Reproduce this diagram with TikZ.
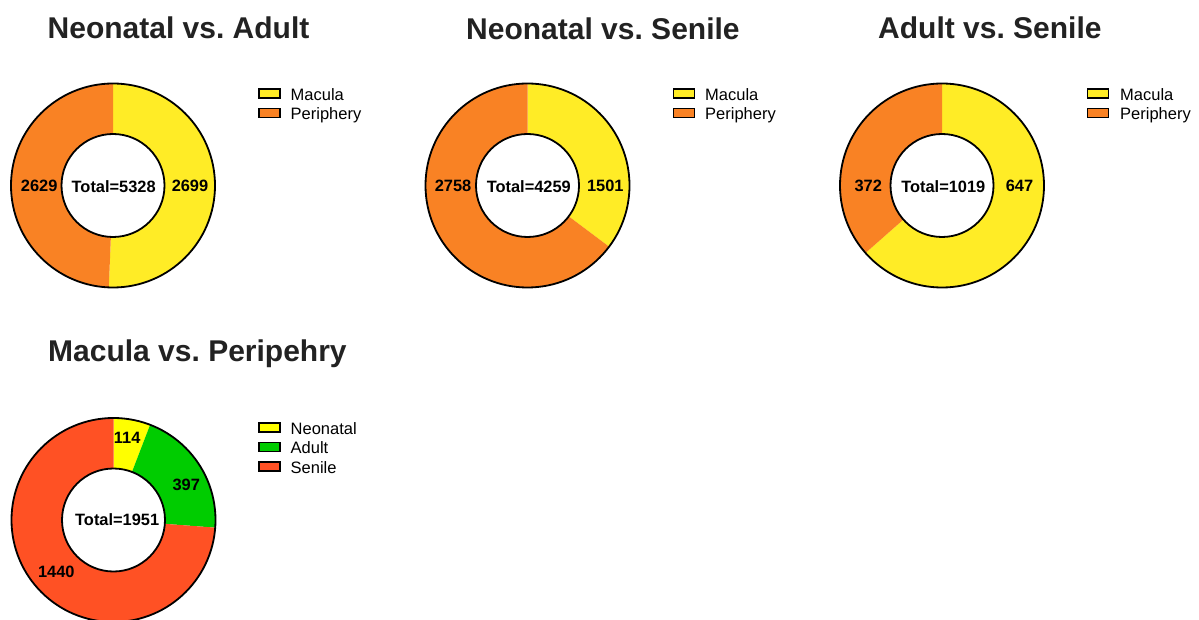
\documentclass[tikz,border=0pt]{standalone}
\usepackage{fontspec}
\setmainfont{Liberation Sans}
\usetikzlibrary{calc}
\definecolor{mac}{RGB}{255,236,38}
\definecolor{per}{RGB}{249,130,36}
\definecolor{neo}{RGB}{255,255,0}
\definecolor{adu}{RGB}{0,204,0}
\definecolor{sen}{RGB}{255,81,36}
\definecolor{ttl}{RGB}{34,34,34}
\frenchspacing
\newcommand\ringseg[4]{\fill[#4] ($(#1)+(#2:102)$) arc[start angle=#2, end angle=#3, radius=102] -- ($(#1)+(#3:51.5)$) arc[start angle=#3, end angle=#2, radius=51.5] -- cycle;}
\newcommand\ringline[1]{\draw[ring] (#1) circle[radius=102]; \draw[ring, fill=white] (#1) circle[radius=51.5];}
\begin{document}
\begin{tikzpicture}[x=1pt, y=1pt,
  title/.style={font=\fontsize{30}{36}\selectfont\bfseries, text=ttl, anchor=base west, inner sep=0},
  val/.style={font=\fontsize{16.4}{19}\selectfont\bfseries, inner sep=0},
  leg/.style={font=\fontsize{16.5}{19}\selectfont, anchor=base west, inner sep=0},
  legbox/.style={draw=black, line width=1.5pt},
  ring/.style={draw=black, line width=1.8pt}]
\useasboundingbox (0,0) rectangle (1199,619);
\fill[white] (0,0) rectangle (1199,619);

\coordinate (c1) at (113,433.5);
\coordinate (c2) at (527.5,433.5);
\coordinate (c3) at (942,433.5);
\coordinate (c4) at (113.5,99);

% titles
\node[title] (t1) at (47.5,580.7) {Neonatal vs. Adult};
\node[title] (t2) at (466,579.8) {Neonatal vs. Senile};
\node[title] (t3) at (878,580.7) {Adult vs. Senile};
\node[title] (t4) at (48,257.7) {Macula vs. Peripehry};

% chart 1
\ringseg{c1}{90}{-92.36}{mac}
\ringseg{c1}{-92.36}{-270}{per}
\ringline{c1}
\node[val] (v1a) at (190,432.7) {2699};
\node[val] (v1b) at (39.2,432.7) {2629};
\node[val] (v1t) at (113.7,432.7) {Total=5328};

% chart 2
\ringseg{c2}{90}{-36.87}{mac}
\ringseg{c2}{-36.87}{-270}{per}
\ringline{c2}
\node[val] (v2a) at (605.3,432.7) {1501};
\node[val] (v2b) at (453,432.7) {2758};
\node[val] (v2t) at (528.8,432.7) {Total=4259};

% chart 3
\ringseg{c3}{90}{-138.58}{mac}
\ringseg{c3}{-138.58}{-270}{per}
\ringline{c3}
\node[val] (v3a) at (1019.5,432.7) {647};
\node[val] (v3b) at (868.3,432.7) {372};
\node[val] (v3t) at (943.3,432.7) {Total=1019};

% chart 4
\ringseg{c4}{90}{68.96}{neo}
\ringseg{c4}{68.96}{-4.29}{adu}
\ringseg{c4}{-4.29}{-270}{sen}
\ringline{c4}
\node[val] (v4a) at (127.2,180.7) {114};
\node[val] (v4b) at (186.2,134.5) {397};
\node[val] (v4c) at (56.3,47) {1440};
\node[val] (v4t) at (117.2,99) {Total=1951};

% legends chart 1
\draw[legbox, fill=mac] (259,520.8) rectangle (280,529.8);
\draw[legbox, fill=per] (259,501.5) rectangle (280,510.5);
\node[leg] (l1a) at (290.5,518.8) {Macula};
\node[leg] (l1b) at (290.5,499.5) {Periphery};
% legends chart 2
\draw[legbox, fill=mac] (673.5,520.8) rectangle (694.5,529.8);
\draw[legbox, fill=per] (673.5,501.5) rectangle (694.5,510.5);
\node[leg] (l2a) at (705,518.8) {Macula};
\node[leg] (l2b) at (705,499.5) {Periphery};
% legends chart 3
\draw[legbox, fill=mac] (1087.5,520.8) rectangle (1108.5,529.8);
\draw[legbox, fill=per] (1087.5,501.5) rectangle (1108.5,510.5);
\node[leg] (l3a) at (1120,518.8) {Macula};
\node[leg] (l3b) at (1120,499.5) {Periphery};
% legends chart 4
\draw[legbox, fill=neo] (259,187) rectangle (280,196);
\draw[legbox, fill=adu] (259,167.5) rectangle (280,176.5);
\draw[legbox, fill=sen] (259,148) rectangle (280,157);
\node[leg] (l4a) at (290.5,185) {Neonatal};
\node[leg] (l4b) at (290.5,165.5) {Adult};
\node[leg] (l4c) at (290.5,146) {Senile};
\end{tikzpicture}
\end{document}
